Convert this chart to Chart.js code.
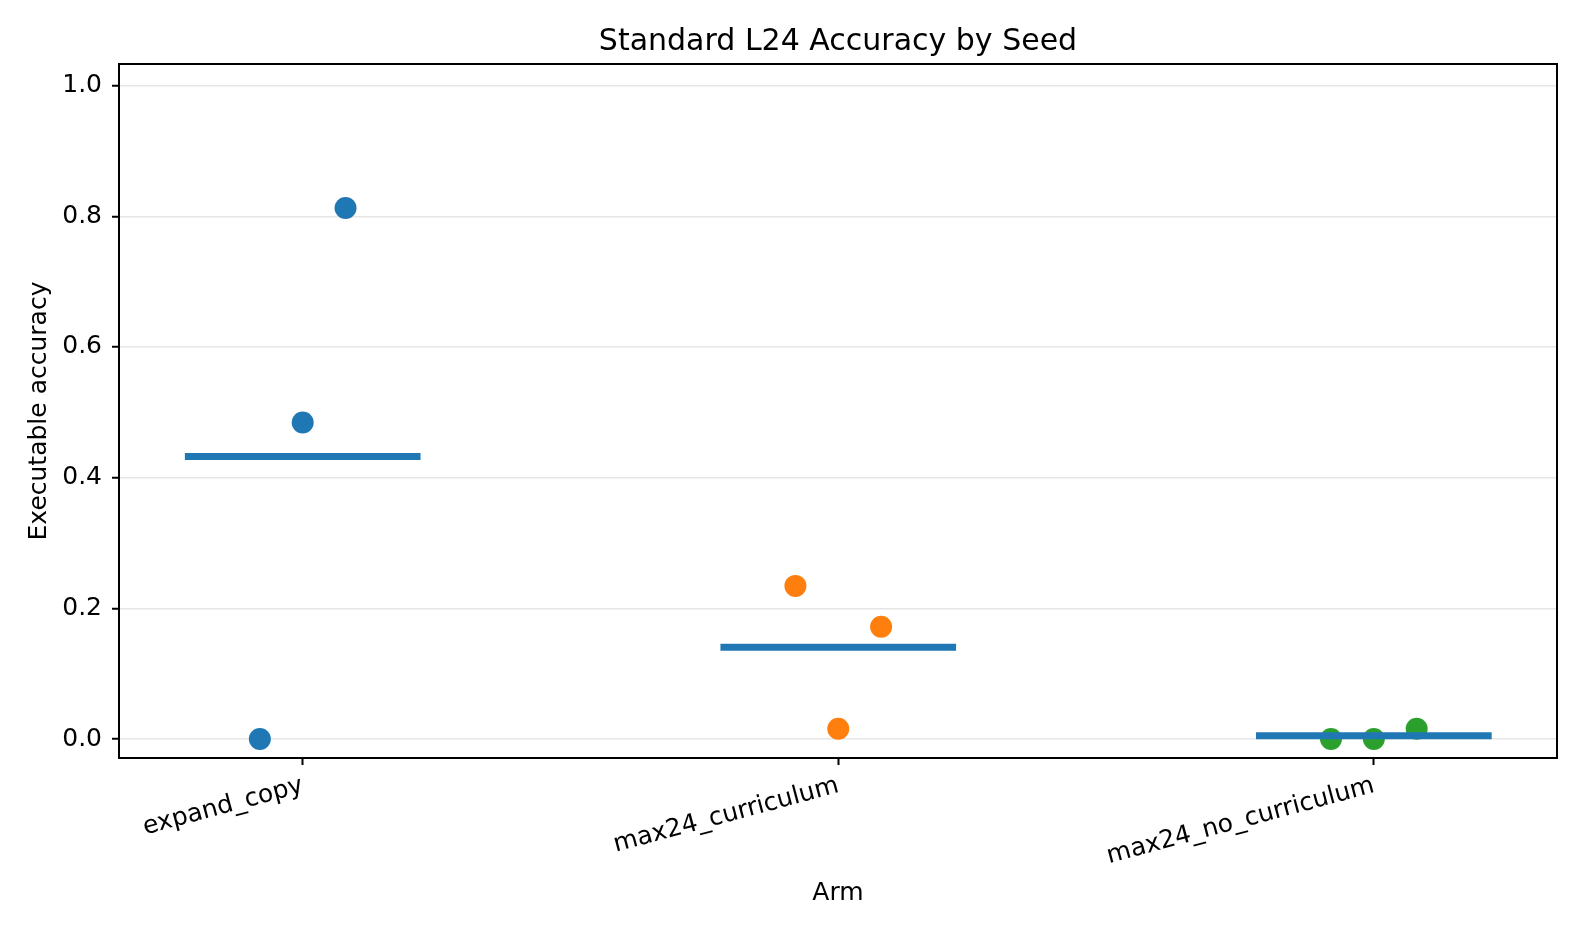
<!DOCTYPE html>
<html>
	<head>
		<meta charset="UTF-8">
		<title>Standard L24 Accuracy by Seed</title>
		<script src="https://cdn.jsdelivr.net/npm/chart.js"></script>
		<style>
			* {padding: 0; margin: 0;}
			html, body {background: #fff; overflow: hidden;}
			#wrap {width: 1584px; height: 936px;}
			canvas {display: block;}
		</style>
	</head>
	<body>
		<div id="wrap">
			<canvas id="myChart" width="1584" height="936"></canvas>
		</div>
		<script>
			// data
			const arms = ["expand_copy", "max24_curriculum", "max24_no_curriculum"];
			const seedA = [0.0, 0.484375, 0.8125];      // expand_copy
			const seedB = [0.234375, 0.015625, 0.171875]; // max24_curriculum
			const seedC = [0.0, 0.0, 0.015625];         // max24_no_curriculum
			const yTicks = [0.0, 0.2, 0.4, 0.6, 0.8, 1.0];

			const armColors = ["#1f77b4", "#ff7f0e", "#2ca02c"];
			const jitter = [-0.08, 0, 0.08];
			const halfWidth = 0.22;
			const FONT = "'DejaVu Sans', sans-serif";

			const seeds = [seedA, seedB, seedC];
			let datasets = [];

			// mean lines (drawn on top -> order 0)
			seeds.forEach(function(vals, i){
				let m = vals.reduce(function(a, b){ return a + b; }, 0) / vals.length;
				datasets.push({
					type: 'line',
					data: [{x: i - halfWidth, y: m}, {x: i + halfWidth, y: m}],
					borderColor: "#1f77b4",
					borderWidth: 7,
					borderCapStyle: 'butt',
					pointRadius: 0,
					fill: false,
					order: 0
				});
			});

			// seed points
			seeds.forEach(function(vals, i){
				datasets.push({
					type: 'scatter',
					data: vals.map(function(v, k){ return {x: i + jitter[k], y: v}; }),
					backgroundColor: armColors[i],
					borderWidth: 0,
					pointRadius: 11,
					pointHoverRadius: 11,
					order: 1
				});
			});

			// full black frame like matplotlib
			const frame = {
				id: 'frame',
				afterDraw: function(chart){
					const a = chart.chartArea;
					const c = chart.ctx;
					c.save();
					c.strokeStyle = "#000";
					c.lineWidth = 2;
					c.strokeRect(a.left, a.top, a.right - a.left, a.bottom - a.top);
					c.restore();
				}
			};

			const ctx = document.getElementById('myChart');
			new Chart(ctx, {
				data: {datasets: datasets},
				plugins: [frame],
				options: {
					responsive: false,
					animation: false,
					events: [],
					layout: {padding: {left: 0, right: 27, top: 0, bottom: 0}},
					plugins: {
						legend: {display: false},
						tooltip: {enabled: false},
						title: {
							display: true,
							fullSize: false,
							text: "Standard L24 Accuracy by Seed",
							color: "#000",
							font: {family: FONT, size: 30, weight: 'normal'},
							padding: {top: 24, bottom: 4}
						}
					},
					scales: {
						x: {
							type: 'linear',
							min: -0.343,
							max: 2.342,
							afterBuildTicks: function(scale){
								scale.ticks = arms.map(function(a, i){ return {value: i}; });
							},
							afterFit: function(scale){ scale.height = 178; },
							ticks: {
								color: "#000",
								font: {family: FONT, size: 25},
								minRotation: 15,
								maxRotation: 15,
								padding: 6,
								callback: function(v){ return arms[v]; }
							},
							grid: {drawOnChartArea: false, drawTicks: true, tickLength: 7, tickColor: "#000", tickWidth: 2},
							border: {display: true, color: "#000", width: 2},
							title: {
								display: true,
								text: "Arm",
								color: "#000",
								font: {family: FONT, size: 25},
								padding: {top: 0, bottom: 28}
							}
						},
						y: {
							type: 'linear',
							min: -0.029,
							max: 1.033,
							afterBuildTicks: function(scale){
								scale.ticks = yTicks.map(function(v){ return {value: v}; });
							},
							afterFit: function(scale){ scale.width = 119; },
							ticks: {
								color: "#000",
								font: {family: FONT, size: 25},
								padding: 10,
								callback: function(v){ return v.toFixed(1); }
							},
							grid: {color: "#e6e6e6", lineWidth: 1.5, drawTicks: true, tickLength: 7, tickColor: "#000", tickWidth: 2},
							border: {display: true, color: "#000", width: 2},
							title: {
								display: true,
								text: "Executable accuracy",
								color: "#000",
								font: {family: FONT, size: 25},
								padding: {top: 24, bottom: 0}
							}
						}
					}
				}
			});
		</script>
	</body>
</html>
